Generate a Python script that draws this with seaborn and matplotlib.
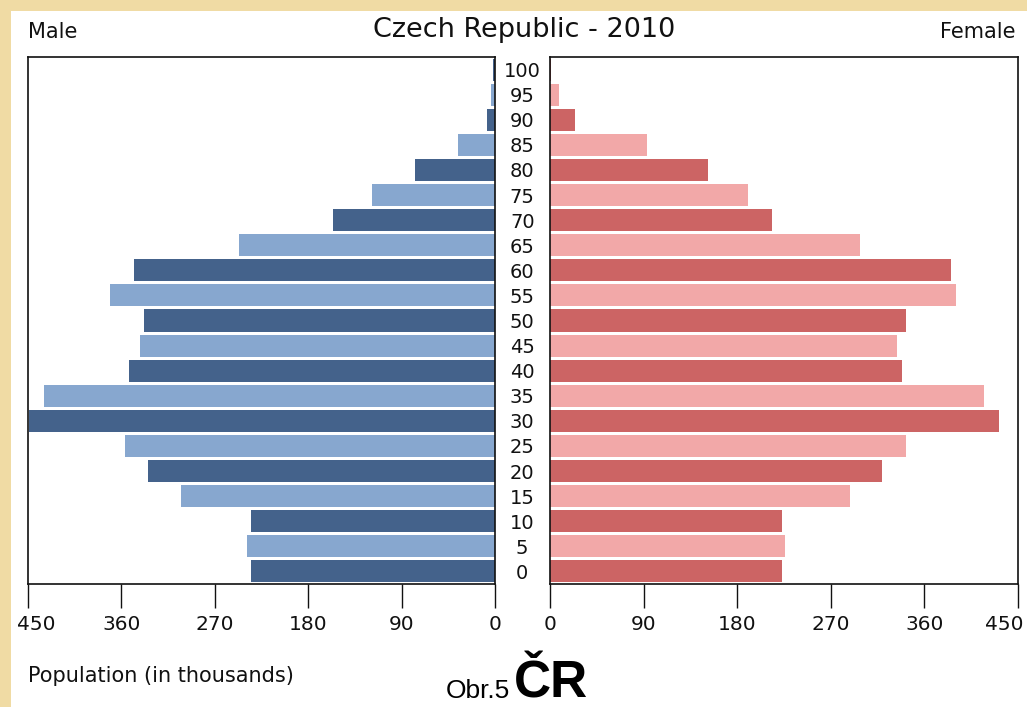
import matplotlib
matplotlib.use("Agg")
import matplotlib.pyplot as plt
import matplotlib.transforms as mtransforms
import seaborn as sns
import pandas as pd
from matplotlib.patches import Rectangle

ages = [100, 95, 90, 85, 80, 75, 70, 65, 60, 55, 50, 45, 40, 35, 30, 25, 20, 15, 10, 5, 0]
male = [2, 4, 8, 36, 77, 119, 156, 247, 348, 371, 338, 342, 353, 435, 449, 357, 334, 303, 235, 239, 235]
female = [1, 9, 24, 93, 152, 190, 213, 298, 386, 390, 342, 334, 338, 417, 432, 342, 319, 288, 223, 226, 223]
ticks = [0, 90, 180, 270, 360, 450]

male_dark, male_light = "#44628b", "#87a7cf"
fem_dark, fem_light = "#cc6464", "#f2a8a8"

sns.set_theme(style="white")
plt.rcParams['font.family'] = ['DejaVu Sans']

labels = [str(a) for a in ages]
df = pd.DataFrame({"age": labels, "male": male, "female": female})
male_pal = {str(a): (male_dark if (a // 5) % 2 == 0 else male_light) for a in ages}
fem_pal = {str(a): (fem_dark if (a // 5) % 2 == 0 else fem_light) for a in ages}

fig = plt.figure(figsize=(10.27, 7.07), dpi=100, facecolor="white")
cream = "#f0dba4"
fig.patches.append(Rectangle((0, 0), 11 / 1027, 1, transform=fig.transFigure,
                             facecolor=cream, edgecolor="none", zorder=-10))
fig.patches.append(Rectangle((0, 1 - 11 / 707), 1, 11 / 707, transform=fig.transFigure,
                             facecolor=cream, edgecolor="none", zorder=-10))

bottom = 1 - 584 / 707
height = (584 - 57) / 707
axL = fig.add_axes([28 / 1027, bottom, 467 / 1027, height])
axR = fig.add_axes([550 / 1027, bottom, 468 / 1027, height])

sns.barplot(data=df, x="male", y="age", hue="age", palette=male_pal, order=labels,
            legend=False, ax=axL, width=0.88, saturation=1, linewidth=0)
sns.barplot(data=df, x="female", y="age", hue="age", palette=fem_pal, order=labels,
            legend=False, ax=axR, width=0.88, saturation=1, linewidth=0)

for ax in (axL, axR):
    ax.set_facecolor("white")
    ax.set_ylim(len(ages) - 0.5, -0.5)
    ax.set_xticks(ticks)
    ax.set_xticklabels([str(t) for t in ticks])
    ax.set_xlabel("")
    ax.set_ylabel("")
    for s in ax.spines.values():
        s.set_visible(True)
        s.set_color("#111111")
        s.set_linewidth(1.2)
    ax.tick_params(axis="x", bottom=True, length=17, width=1.0, color="#111111",
                   labelsize=14.5, pad=5, labelcolor="#111111")

axL.set_xlim(450, 0)
axR.set_xlim(0, 450)
axL.set_yticks([])
axR.tick_params(axis="y", left=False, length=0, labelsize=14, pad=20, labelcolor="#111111")
axR.set_yticks(range(len(ages)))
axR.set_yticklabels(labels)
for t in axR.get_yticklabels():
    t.set_horizontalalignment("center")

# keep edge tick labels inside the figure, as in the reference
lab_l = axL.get_xticklabels()[-1]
lab_l.set_transform(lab_l.get_transform() + mtransforms.ScaledTranslation(8 / 100, 0, fig.dpi_scale_trans))
lab_r = axR.get_xticklabels()[-1]
lab_r.set_transform(lab_r.get_transform() + mtransforms.ScaledTranslation(-14 / 100, 0, fig.dpi_scale_trans))

fig.text(524 / 1027, 1 - 30 / 707, "Czech Republic - 2010", ha="center", va="center",
         fontsize=19.5, color="#111111")
fig.text(28 / 1027, 1 - 32 / 707, "Male", ha="left", va="center", fontsize=15, color="#111111")
fig.text(1015 / 1027, 1 - 32 / 707, "Female", ha="right", va="center", fontsize=15, color="#111111")
fig.text(28 / 1027, 1 - 676 / 707, "Population (in thousands)", ha="left", va="center",
         fontsize=15, color="#111111")
fig.text(510 / 1027, 1 - 698 / 707, "Obr.5", ha="right", va="baseline", fontsize=19,
         family=['Liberation Sans'], color="black")
fig.text(514 / 1027, 1 - 698 / 707, "ČR", ha="left", va="baseline", fontsize=37,
         fontweight="bold", family=['Liberation Sans'], color="black")

fig.savefig("out.png", dpi=100, facecolor=fig.get_facecolor())
